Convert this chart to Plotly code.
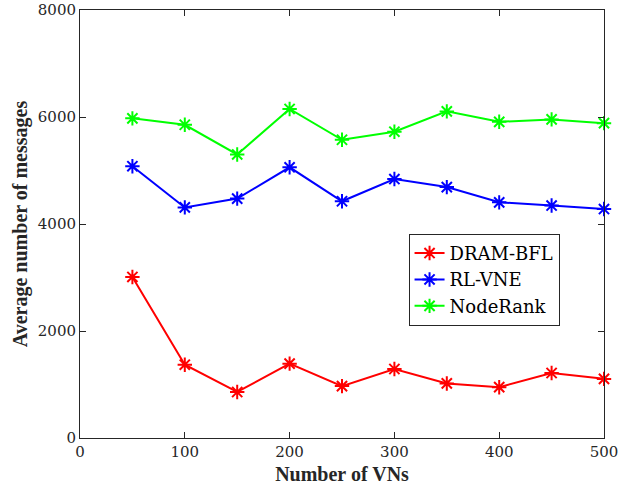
import plotly.graph_objects as go

vns = [50, 100, 150, 200, 250, 300, 350, 400, 450, 500]
dram_bfl = [3010, 1370, 860, 1390, 970, 1290, 1020, 950, 1215, 1105]
rl_vne = [5080, 4310, 4475, 5060, 4425, 4840, 4690, 4405, 4345, 4280]
noderank = [5975, 5855, 5300, 6150, 5575, 5725, 6105, 5910, 5955, 5885]

series = [("DRAM-BFL", dram_bfl, "#ff0000"),
          ("RL-VNE", rl_vne, "#0000ff"),
          ("NodeRank", noderank, "#00ff00")]

bold_font = "Liberation Serif"
reg_font = "DejaVu Serif"
fig = go.Figure()
for name, vals, col in series:
    fig.add_trace(go.Scatter(
        x=vns, y=vals, name=name, mode="lines+markers",
        line=dict(color=col, width=2),
        marker=dict(symbol="asterisk-open", size=12, color=col,
                    line=dict(color=col, width=2)),
        cliponaxis=False))

axis_common = dict(showline=True, linecolor="#262626", linewidth=1, mirror="ticks",
                   ticks="inside", ticklen=6, tickcolor="#262626", showgrid=False,
                   zeroline=False, automargin=False,
                   tickfont=dict(family=reg_font, size=15, color="#262626"))
fig.update_xaxes(range=[0, 500], tickvals=[0, 100, 200, 300, 400, 500],
                 title=dict(text="<b>Number of VNs</b>", font=dict(family=bold_font, size=20, color="#262626"), standoff=6),
                 **axis_common)
fig.update_yaxes(range=[0, 8000], tickvals=[0, 2000, 4000, 6000, 8000],
                 title=dict(text="<b>Average number of messages</b>", font=dict(family=bold_font, size=20, color="#262626"), standoff=4),
                 **axis_common)
fig.update_layout(
    width=624, height=492, paper_bgcolor="white", plot_bgcolor="white",
    font=dict(family=reg_font),
    margin=dict(l=80, r=20, t=10, b=54),
    legend=dict(x=0.627, y=0.477, xanchor="left", yanchor="top",
                bordercolor="#262626", borderwidth=1, bgcolor="white",
                font=dict(family=reg_font, size=18, color="black"),
                itemwidth=30, tracegroupgap=0),
    showlegend=True)
fig.write_html("out.html")
